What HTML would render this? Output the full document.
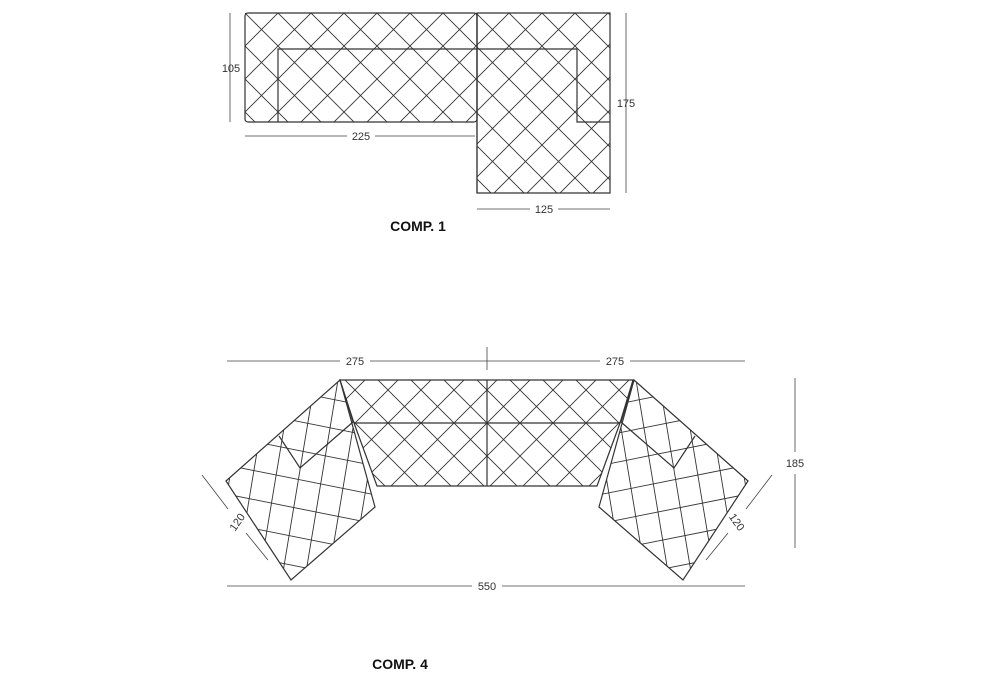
<!DOCTYPE html>
<html><head><meta charset="utf-8"><style>
html,body{margin:0;background:#fff;width:1000px;height:700px;overflow:hidden}
svg{display:block}
text{font-family:"Liberation Sans",sans-serif;font-size:11px;fill:#333}
.b{font-weight:bold;font-size:14px;fill:#111}
</style></head><body>
<svg id="s" width="1000" height="700" viewBox="0 0 1000 700" xmlns="http://www.w3.org/2000/svg">
<defs>
<clipPath id="c1"><rect x="245" y="13" width="232" height="109"/></clipPath>
<clipPath id="c2"><polygon points="477,13 610,13 610,193 477,193"/></clipPath>
<clipPath id="c3"><polygon points="340,380 633,380 620,423 597,486 377,486 354,423"/></clipPath>
<clipPath id="wl"><polygon points="226,481 340,380 375,507 291,580"/></clipPath>
<clipPath id="wr"><polygon points="748,481 634,380 599,507 683,580"/></clipPath>
</defs>
<g id="g" stroke="#333" stroke-width="0.9" fill="none"></g>
<g stroke="#333" stroke-width="1.2" fill="none">
<rect x="245" y="13" width="232" height="109" rx="3"/>
<path d="M477 13H610V193H477Z"/>
<path d="M278 122V49H577V122H610M477 13V193"/>
<polygon points="340,380 633,380 620,423 597,486 377,486 354,423"/>
<path d="M354 423H620M487 380V486"/>
<polygon points="226,481 340,380 375,507 291,580"/>
<polygon points="748,481 634,380 599,507 683,580"/>
<path d="M279 436L300 468L353 422L340 380M695 436L674 468L621 422L634 380"/>
</g>
<g stroke="#444" stroke-width="0.8">
<path d="M230 13V122M626 13V193M245 136H347M375 136H475M477 209H530M558 209H610"/>
<path d="M227 361H340M370 361H600M630 361H745M487 347V370M795 378V452M795 474V548M227 586H472M502 586H745"/>
<path d="M202 475L228 509M246 533L268 560M772 475L746 509M728 533L706 560"/>
</g>
<text x="231" y="72" text-anchor="middle">105</text>
<text x="626" y="107" text-anchor="middle">175</text>
<text x="361" y="140" text-anchor="middle">225</text>
<text x="544" y="213" text-anchor="middle">125</text>
<text class="b" x="418" y="231" text-anchor="middle">COMP. 1</text>
<text x="355" y="365" text-anchor="middle">275</text>
<text x="615" y="365" text-anchor="middle">275</text>
<text x="795" y="467" text-anchor="middle">185</text>
<text x="487" y="590" text-anchor="middle">550</text>
<text x="237" y="526" text-anchor="middle" transform="rotate(-55 237 522)">120</text>
<text x="737" y="526" text-anchor="middle" transform="rotate(55 737 522)">120</text>
<text class="b" x="400" y="669" text-anchor="middle">COMP. 4</text>
</svg>
<script>
var g=document.getElementById('g'),NS='http://www.w3.org/2000/svg';
function ln(a,b,c,d,clip){var l=document.createElementNS(NS,'line');l.setAttribute('x1',a);l.setAttribute('y1',b);l.setAttribute('x2',c);l.setAttribute('y2',d);if(clip)l.setAttribute('clip-path','url(#'+clip+')');g.appendChild(l);}
function grid(clip,a0,b0,s){for(var k=-40;k<40;k++){var a=a0+k*s,b=b0+k*s;ln(a,0,a+800,800,clip);ln(b,0,b-800,800,clip);}}
grid('c1',232,258,33);grid('c2',232,258,33);
grid('c3',64,910,33);
function wing(clip,s){var cx=s>0?226:748;
 for(var k=-8;k<10;k++){var y=436+k*29;ln(cx-200*s,y-40,cx+400*s,y+80,clip);}
 for(var k=-8;k<12;k++){var x=cx+s*(k*23);ln(x+25*s,350,x-25*s,650,clip);}
}
wing('wl',1);wing('wr',-1);
</script>
</body></html>
